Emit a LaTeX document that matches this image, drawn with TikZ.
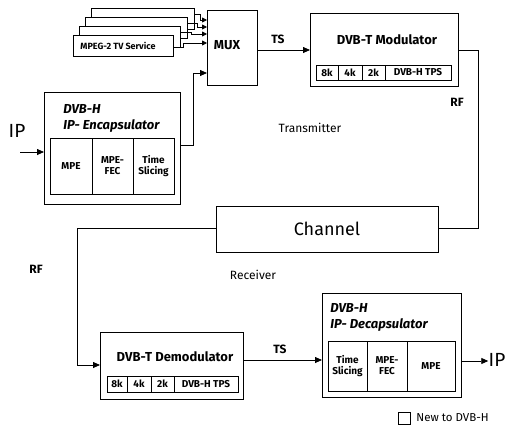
\documentclass[tikz,border=0pt]{standalone}
\usepackage{fontspec}
\setmainfont{Fira Sans}
\usetikzlibrary{arrows.meta}
\begin{document}
\begin{tikzpicture}[x=1pt,y=-1pt,line width=0.8pt,
  box/.style={draw,fill=white,inner sep=0pt,anchor=north west},
  lbl/.style={inner sep=0pt},
  arr/.style={-{Triangle[length=7pt,width=6pt]}},
  sarr/.style={-{Triangle[length=5pt,width=5pt]}},
  ttl/.style={inner sep=0pt,font=\fontsize{13}{14}\selectfont\bfseries},
  ttli/.style={inner sep=0pt,anchor=west,align=left,font=\fontsize{13}{16}\selectfont\bfseries\itshape},
  cell/.style={inner sep=0pt,font=\fontsize{10}{11}\selectfont\bfseries,align=center},
  sig/.style={inner sep=0pt,font=\fontsize{12}{13}\selectfont\bfseries}]
\useasboundingbox (0,0) rectangle (517,434);
% stacked MPEG boxes
\node[box,minimum width=103pt,minimum height=21pt] (m3) at (91,8) {};
\node[box,minimum width=102pt,minimum height=21pt] (m2) at (85,17) {};
\node[box,minimum width=101pt,minimum height=21pt] (m1) at (79,26) {};
\node[box,minimum width=100pt,minimum height=21pt] (m0) at (73,35) {};
\node[lbl,font=\fontsize{9}{10}\selectfont\bfseries] at (118,46) {MPEG-2 TV Service};
% MUX
\node[box,minimum width=50pt,minimum height=75pt] (mux) at (207,10) {};
\node[lbl,font=\fontsize{13}{14}\selectfont\bfseries] at (227,45) {MUX};
\draw[sarr] (m3.east |- 0,14) -- (200,14) -- (200,20) -- (mux.west |- 0,20);
\draw[sarr] (m2.east |- 0,23) -- (197,23) -- (197,27) -- (mux.west |- 0,27);
\draw[sarr] (m1.east |- 0,32) -- (191,32) -- (191,34) -- (mux.west |- 0,34);
\draw[sarr] (m0.east |- 0,47) -- (183,47) -- (183,43) -- (mux.west |- 0,43);
% Encapsulator
\node[box,minimum width=136pt,minimum height=112pt] (enc) at (44,92) {};
\node[ttli] at (63,118) {DVB-H\\IP- Encapsulator};
\node[box,minimum width=124pt,minimum height=56pt] (enci) at (50,138) {};
\draw (92,138) -- (92,194) (133,138) -- (133,194);
\node[cell] at (71,166) {MPE};
\node[cell] at (112.5,166) {MPE-\\FEC};
\node[cell] at (153.5,166) {Time\\Slicing};
\node[lbl,font=\fontsize{19}{20}\selectfont] (ipin) at (17,131) {IP};
\coordinate (ipa) at (20,152);
\draw[arr] (ipa) -- (enc.west |- ipa);
\draw[arr] (enc.east |- 0,145) -- (193,145) -- (193,73) -- (mux.west |- 0,73);
% Modulator
\node[box,minimum width=148pt,minimum height=73pt] (mod) at (310,13) {};
\node[ttl] at (387,40) {DVB-T Modulator};
\node[box,minimum width=135pt,minimum height=15pt] (modi) at (316,65) {};
\draw (338,65) -- (338,80) (362,65) -- (362,80) (385,65) -- (385,80);
\node[cell] at (327,72.5) {8k};
\node[cell] at (350,72.5) {4k};
\node[cell] at (373.5,72.5) {2k};
\node[cell] at (418,72.5) {DVB-H TPS};
\draw[arr] (mux.east |- 0,50) -- (mod.west |- 0,50);
\node[sig] at (278,39) {TS};
% Channel
\node[box,minimum width=222pt,minimum height=46pt] (ch) at (216,206) {};
\node[lbl,font=\fontsize{18}{19}\selectfont] at (327,229) {Channel};
\draw (mod.east |- 0,50) -- (478,50) -- (478,228) -- (ch.east |- 0,228);
\node[sig] at (457,102) {RF};
\node[lbl,font=\fontsize{12}{13}\selectfont] at (310,128) {Transmitter};
\node[lbl,font=\fontsize{12}{13}\selectfont] at (253,275) {Receiver};
\node[sig] at (36,269) {RF};
% Demodulator
\node[box,minimum width=143pt,minimum height=67pt] (dem) at (100,332) {};
\node[ttl] at (175,357) {DVB-T Demodulator};
\node[box,minimum width=131pt,minimum height=16pt] (demi) at (107,376) {};
\draw (127,376) -- (127,392) (151,376) -- (151,392) (174,376) -- (174,392);
\node[cell] at (117,384) {8k};
\node[cell] at (139,384) {4k};
\node[cell] at (162.5,384) {2k};
\node[cell] at (206,384) {DVB-H TPS};
\draw[arr] (ch.west |- 0,228) -- (77,228) -- (77,365) -- (dem.west |- 0,365);
% Decapsulator
\node[box,minimum width=139pt,minimum height=104pt] (dec) at (322,293) {};
\node[ttli] at (330,317) {DVB-H\\IP- Decapsulator};
\node[box,minimum width=127pt,minimum height=50pt] (deci) at (328,341) {};
\draw (367,341) -- (367,391) (407,341) -- (407,391);
\node[cell] at (347.5,366) {Time\\Slicing};
\node[cell] at (387,366) {MPE-\\FEC};
\node[cell] at (431,366) {MPE};
\draw[arr] (dem.east |- 0,360) -- (dec.west |- 0,360);
\node[sig] at (280,349) {TS};
\node[lbl,font=\fontsize{19}{20}\selectfont] (ipout) at (497,360) {IP};
\draw[arr] (dec.east |- 0,361) -- (ipout.west |- 0,361);
% legend
\node[box,minimum width=12pt,minimum height=12pt] (leg) at (398,412) {};
\node[lbl,anchor=west,font=\fontsize{11.5}{12}\selectfont] at (416,418) {New to DVB-H};
\end{tikzpicture}
\end{document}
